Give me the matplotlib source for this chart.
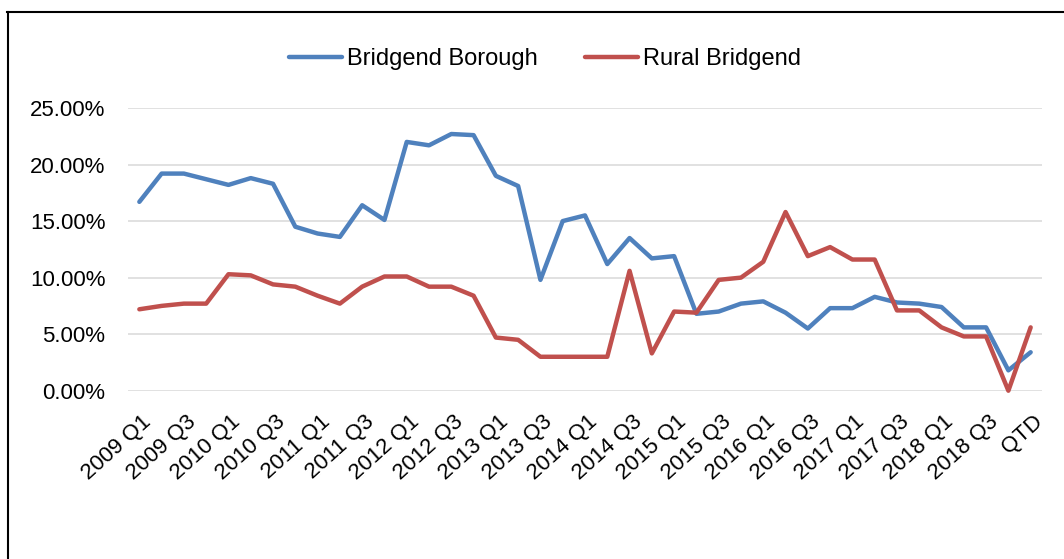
import matplotlib
matplotlib.use("Agg")
import matplotlib.pyplot as plt
from matplotlib.lines import Line2D
from matplotlib.ticker import FuncFormatter, MultipleLocator
from matplotlib.transforms import ScaledTranslation

plt.rcParams['font.family'] = ['Liberation Sans', 'DejaVu Sans']

quarters = [f"{y} Q{q}" for y in range(2009, 2019) for q in range(1, 5)] + ["QTD"]

bridgend_borough = [16.7, 19.2, 19.2, 18.7, 18.2, 18.8, 18.3, 14.5, 13.9, 13.6,
                    16.4, 15.1, 22.0, 21.7, 22.7, 22.6, 19.0, 18.1, 9.8, 15.0,
                    15.5, 11.2, 13.5, 11.7, 11.9, 6.8, 7.0, 7.7, 7.9, 6.9,
                    5.5, 7.3, 7.3, 8.3, 7.8, 7.7, 7.4, 5.6, 5.6, 1.8, 3.4]
rural_bridgend = [7.2, 7.5, 7.7, 7.7, 10.3, 10.2, 9.4, 9.2, 8.4, 7.7,
                  9.2, 10.1, 10.1, 9.2, 9.2, 8.4, 4.7, 4.5, 3.0, 3.0,
                  3.0, 3.0, 10.6, 3.3, 7.0, 6.9, 9.8, 10.0, 11.4, 15.8,
                  11.9, 12.7, 11.6, 11.6, 7.1, 7.1, 5.6, 4.8, 4.8, 0.0, 5.6]

series_names = ["Bridgend Borough", "Rural Bridgend"]
series_colors = ["#4F81BD", "#C0504D"]

W, H = 1064, 559
fig = plt.figure(figsize=(W / 100, H / 100), dpi=100)
fig.patch.set_facecolor("white")

ax_l, ax_r, ax_t, ax_b = 128.2, 1041.8, 108, 390.7
ax = fig.add_axes([ax_l / W, 1 - ax_b / H, (ax_r - ax_l) / W, (ax_b - ax_t) / H])

x = list(range(len(quarters)))
for vals, name, col in zip([bridgend_borough, rural_bridgend], series_names, series_colors):
    ax.plot(x, [v / 100 for v in vals], color=col, lw=3.2, label=name,
            solid_joinstyle="round", solid_capstyle="round", zorder=3, clip_on=False)

ax.set_xlim(-0.5, len(quarters) - 0.5)
ax.set_ylim(0, 0.25)
ax.yaxis.set_major_locator(MultipleLocator(0.05))
ax.yaxis.set_major_formatter(FuncFormatter(lambda v, p: f"{v*100:.2f}%"))
ax.grid(axis="y", color="#D9D9D9", lw=1.1, zorder=0)
ax.set_axisbelow(True)
for s in ax.spines.values():
    s.set_visible(False)

ax.set_xticks(x[::2])
ax.set_xticklabels(quarters[::2], rotation=42, ha="right", va="center",
                   rotation_mode="anchor", fontsize=16)
ax.tick_params(axis="x", length=0, pad=20.5)
ax.tick_params(axis="y", length=0, pad=16.5, labelsize=16)
shift = ScaledTranslation(9.4 / 100, 0, fig.dpi_scale_trans)
for lab in ax.get_xticklabels():
    lab.set_transform(lab.get_transform() + shift)

handles, labels = ax.get_legend_handles_labels()
for h in handles:
    h.set_solid_capstyle("round")
leg = fig.legend(handles, labels, loc="center", ncol=2,
                 bbox_to_anchor=(545 / W, 1 - 59 / H), bbox_transform=fig.transFigure,
                 frameon=False, fontsize=17, handlelength=2.26, handletextpad=0.2,
                 columnspacing=2.0, borderpad=0)

# outer chart frame (cropped on right and bottom)
fig.add_artist(Line2D([7.6 / W, 7.6 / W], [1 - 12 / H, 0], transform=fig.transFigure,
                      color="black", lw=1.5))
fig.add_artist(Line2D([7 / W, 1], [1 - 12 / H, 1 - 12 / H], transform=fig.transFigure,
                      color="black", lw=1.5))

fig.savefig("out.png", dpi=100)
